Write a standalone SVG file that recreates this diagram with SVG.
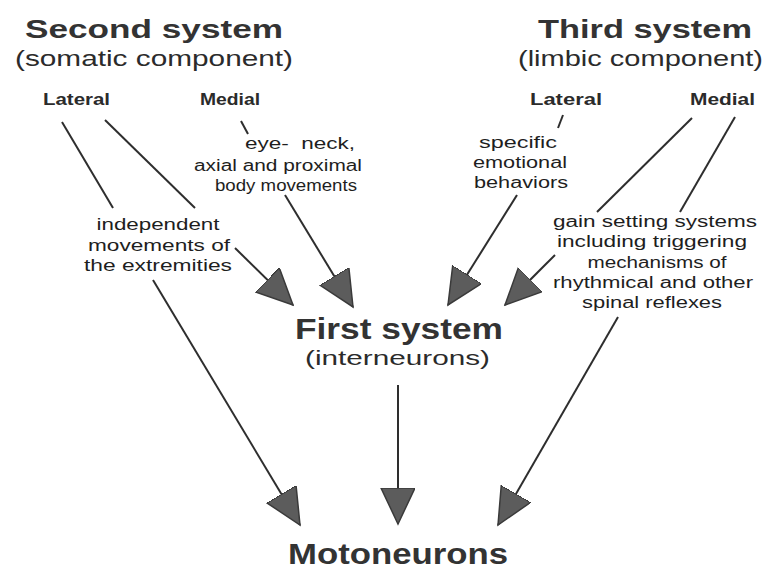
<svg xmlns="http://www.w3.org/2000/svg" width="767" height="570" viewBox="0 0 767 570">
<style>
text{font-family:"Liberation Sans",Arial,sans-serif;fill:#2b2b2b}
.h{font-size:26px;font-weight:bold;fill:#333}
.sub{font-size:22px}
.lm{font-size:16px;font-weight:bold}
.s{font-size:16px;text-anchor:middle;fill:#1e1e1e}
.ln{stroke:#2e2e2e;stroke-width:2;fill:none}
</style>
<defs>
<marker id="ah" markerUnits="userSpaceOnUse" markerWidth="38" markerHeight="36" refX="36" refY="17" orient="auto" viewBox="0 0 38 36">
<path d="M0,0 L36,17 L0,34 Z" fill="#5c5c5c" stroke="#3a3a3a" stroke-width="1.5"/>
</marker>
</defs>
<rect width="767" height="570" fill="#ffffff"/>
<g id="second-system">
<text class="h" x="25" y="38" textLength="258" lengthAdjust="spacingAndGlyphs">Second system</text>
<text class="sub" x="15" y="66" textLength="278" lengthAdjust="spacingAndGlyphs">(somatic component)</text>
</g>
<g id="second-lateral"><text class="lm" x="43" y="105" textLength="67" lengthAdjust="spacingAndGlyphs">Lateral</text></g>
<g id="second-medial"><text class="lm" x="200" y="105" textLength="60" lengthAdjust="spacingAndGlyphs">Medial</text></g>
<g id="third-system">
<text class="h" x="538" y="38" textLength="214" lengthAdjust="spacingAndGlyphs">Third system</text>
<text class="sub" x="518" y="66" textLength="245" lengthAdjust="spacingAndGlyphs">(limbic component)</text>
</g>
<g id="third-lateral"><text class="lm" x="530" y="105" textLength="72" lengthAdjust="spacingAndGlyphs">Lateral</text></g>
<g id="third-medial"><text class="lm" x="690" y="105" textLength="65" lengthAdjust="spacingAndGlyphs">Medial</text></g>
<g id="label-axial">
<text class="s" x="300" y="149" textLength="110" lengthAdjust="spacingAndGlyphs" xml:space="preserve">eye-  neck,</text>
<text class="s" x="278" y="171" textLength="168" lengthAdjust="spacingAndGlyphs">axial and proximal</text>
<text class="s" x="286" y="191" textLength="142" lengthAdjust="spacingAndGlyphs">body movements</text>
</g>
<g id="label-extremities">
<text class="s" x="158" y="230" textLength="123" lengthAdjust="spacingAndGlyphs">independent</text>
<text class="s" x="159" y="251" textLength="142" lengthAdjust="spacingAndGlyphs">movements of</text>
<text class="s" x="158" y="271" textLength="148" lengthAdjust="spacingAndGlyphs">the extremities</text>
</g>
<g id="label-emotional">
<text class="s" x="518" y="148" textLength="78" lengthAdjust="spacingAndGlyphs">specific</text>
<text class="s" x="520" y="168" textLength="94" lengthAdjust="spacingAndGlyphs">emotional</text>
<text class="s" x="521" y="188" textLength="94" lengthAdjust="spacingAndGlyphs">behaviors</text>
</g>
<g id="label-gain">
<text class="s" x="655" y="227" textLength="204" lengthAdjust="spacingAndGlyphs">gain setting systems</text>
<text class="s" x="652" y="247" textLength="190" lengthAdjust="spacingAndGlyphs">including triggering</text>
<text class="s" x="657" y="268" textLength="139" lengthAdjust="spacingAndGlyphs">mechanisms of</text>
<text class="s" x="653" y="288" textLength="200" lengthAdjust="spacingAndGlyphs">rhythmical and other</text>
<text class="s" x="652" y="308" textLength="140" lengthAdjust="spacingAndGlyphs">spinal reflexes</text>
</g>
<g id="first-system">
<text class="h" x="295" y="339" style="font-size:29px" textLength="208" lengthAdjust="spacingAndGlyphs">First system</text>
<text class="sub" x="305" y="365" style="font-size:21px" textLength="185" lengthAdjust="spacingAndGlyphs">(interneurons)</text>
</g>
<g id="motoneurons">
<text class="h" x="288" y="564" style="font-size:30px" textLength="220" lengthAdjust="spacingAndGlyphs">Motoneurons</text>
</g>
<g id="connectors">
<line class="ln" x1="62" y1="122" x2="113" y2="208"/>
<line class="ln" x1="153" y1="280" x2="300" y2="525" marker-end="url(#ah)"/>
<line class="ln" x1="105" y1="120" x2="195" y2="208"/>
<line class="ln" x1="235" y1="248" x2="293" y2="305" marker-end="url(#ah)"/>
<line class="ln" x1="241" y1="121" x2="248" y2="134"/>
<line class="ln" x1="285" y1="195" x2="353" y2="307" marker-end="url(#ah)"/>
<line class="ln" x1="563" y1="115" x2="558" y2="128"/>
<line class="ln" x1="517" y1="195" x2="448" y2="305" marker-end="url(#ah)"/>
<line class="ln" x1="692" y1="118" x2="597" y2="212"/>
<line class="ln" x1="555" y1="255" x2="505" y2="305" marker-end="url(#ah)"/>
<line class="ln" x1="735" y1="117" x2="680" y2="212"/>
<line class="ln" x1="618" y1="317" x2="498" y2="525" marker-end="url(#ah)"/>
<line class="ln" x1="398" y1="385" x2="398" y2="524" marker-end="url(#ah)"/>
</g>
</svg>
